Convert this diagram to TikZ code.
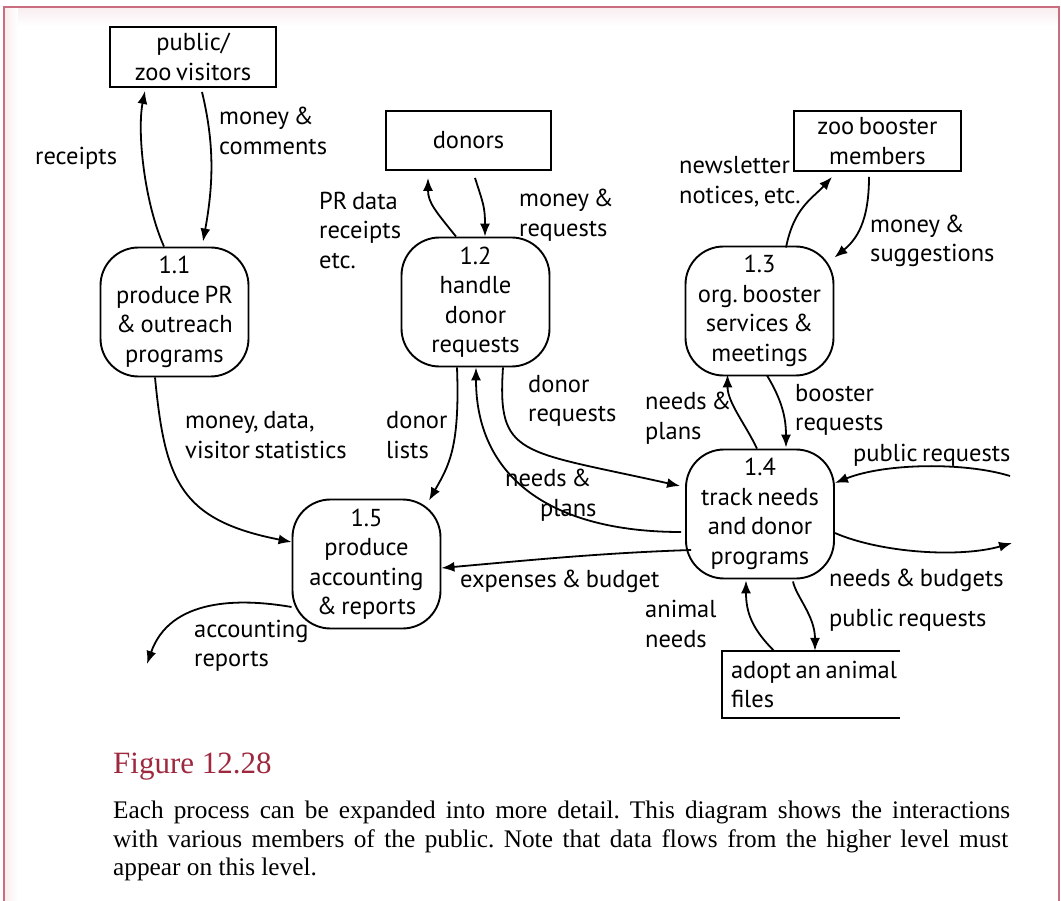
\documentclass[tikz,border=0pt]{standalone}
\usepackage{fontspec}
\setmainfont[WordSpace=0.7]{PT Sans}
\newfontfamily\capfont{Liberation Serif}
\usetikzlibrary{arrows.meta,calc}
\definecolor{framered}{RGB}{200,110,128}
\definecolor{figred}{RGB}{158,40,62}
\frenchspacing
\begin{document}
\begin{tikzpicture}[x=1pt,y=-1pt,
  txt/.style={font=\fontsize{24.5}{29.5}\selectfont},
  lbl/.style={txt, inner sep=0pt, align=left},
  ext/.style={txt, draw, line width=1.9pt, align=center, inner sep=0pt},
  proc/.style={txt, draw, line width=1.9pt, rounded corners=38pt, align=center,
    inner sep=0pt, minimum width=148pt, minimum height=129pt},
  flow/.style={line width=1.8pt, -{Latex[length=13pt,width=10pt]}},
  captext/.style={font=\capfont\fontsize{25.3}{28}\selectfont, inner sep=0pt, anchor=base west}
]
\useasboundingbox (0,0) rectangle (1061,901);

% page frame, open at the bottom
\shade[top color=framered!12, bottom color=white] (4,8) rectangle (1058,26);
\shade[left color=framered!12, right color=white] (4,8) rectangle (18,901);
\draw[framered, line width=2pt] (3.5,901) -- (3.5,7) -- (1058.5,7) -- (1058.5,901);

% external entities
\node[ext, minimum width=166pt, minimum height=60pt] (pub) at (193,57) {public/\\zoo visitors};
\node[ext, minimum width=165pt, minimum height=59pt] (donors) at (468.5,140.5) {donors};
\node[ext, minimum width=167pt, minimum height=60pt] (boost) at (877.5,141) {zoo booster\\members};

% processes
\node[proc] (p11) at (174.5,312) {1.1\\produce PR\\\& outreach\\programs};
\node[proc] (p12) at (475.5,302) {1.2\\handle\\donor\\requests};
\node[proc] (p13) at (759.5,311) {1.3\\org. booster\\services \&\\meetings};
\node[proc] (p14) at (760,514) {1.4\\track needs\\and donor\\programs};
\node[proc] (p15) at (366.5,564) {1.5\\produce\\accounting\\\& reports};

% data store, open on the right
\node[minimum width=178pt, minimum height=67pt, inner sep=0pt] (files) at (811,684.5) {};
\draw[line width=1.9pt] (files.north east) -- (files.north west) -- (files.south west) -- (files.south east);
\node[lbl, anchor=west] (filestext) at ([xshift=9pt]files.west) {adopt an animal\\files};

% free ends
\coordinate (pin) at (1010,476);
\coordinate (pout) at (1012,543);
\coordinate (acc) at (147,664);

% flows
\draw[flow] ([xshift=-10.5pt]p11.north) .. controls +(-20,-45) and +(-8,40) .. ([xshift=-48pt,yshift=-3pt]pub.south);
\draw[flow] ([xshift=9pt,yshift=-4pt]pub.south) .. controls +(12,50) and +(11,-60) .. ([xshift=28.5pt,yshift=5pt]p11.north);
\draw[flow] ([xshift=-19.5pt]p12.north) .. controls +(-20,-25) and +(0,25) .. ([xshift=-40.5pt,yshift=-7pt]donors.south);
\draw[flow] ([xshift=6.5pt,yshift=-7pt]donors.south) .. controls +(8,25) and +(0,-30) .. ([xshift=9.5pt]p12.north);
\draw[flow] ([xshift=26.5pt,yshift=-2pt]p13.north) .. controls +(8,-40) and +(-20,22) .. ([xshift=-45.5pt,yshift=-5pt]boost.south);
\draw[flow] ([xshift=-8.5pt,yshift=-5pt]boost.south) .. controls +(0,45) and +(22,-18) .. ([yshift=-12pt]p13.north east);
\draw[flow] ([xshift=-3pt]p14.north) .. controls +(-12,-25) and +(0,28) .. ([xshift=-32pt,yshift=2pt]p13.south);
\draw[flow] ([xshift=7.5pt,yshift=1pt]p13.south) .. controls +(15,25) and +(0,-30) .. ([xshift=26pt,yshift=1pt]p14.north);
\draw[flow] (pin) .. controls +(-45,-14) and +(50,-20) .. ([yshift=31pt]p14.east);
\draw[flow] ([yshift=-19pt]p14.east) .. controls +(46,20) and +(-52,15) .. (pout);
\draw[flow] ([xshift=33pt,yshift=-2pt]p14.south) .. controls +(3,15) and +(0,-35) .. ([xshift=4pt]files.north);
\draw[flow] ([xshift=-37pt]files.north) .. controls +(-22,-22) and +(0,32) .. ([xshift=-14pt,yshift=-1pt]p14.south);
\draw[flow] ([xshift=-18.5pt]p12.south) .. controls +(3,80) and +(20,-35) .. ([xshift=62.5pt,yshift=-2pt]p15.north);
\draw[flow] ([xshift=-4pt,yshift=-18pt]p14.west) .. controls +(-130,0) and +(0,110) .. ([xshift=0.5pt]p12.south);
\draw[flow] ([xshift=27.5pt]p12.south) .. controls +(-6,90) and +(-161,-36) .. ([xshift=-5pt,yshift=28pt]p14.west);
\draw[flow] ([xshift=-19.5pt]p11.south) .. controls +(10,103) and +(-112,-22) .. ([yshift=22pt]p15.west);
\draw[flow] ([xshift=6pt,yshift=-36pt]p14.west) .. controls +(-90,3) and +(90,-8) .. ([yshift=-4pt]p15.east);
\draw[flow] ([yshift=-43pt]p15.west) .. controls +(-52,-9) and +(23,-66) .. (acc);

% flow labels
\node[lbl, anchor=west] (l1) at (35,158) {receipts};
\node[lbl, anchor=west] (l2) at (219,131) {money \&\\comments};
\node[lbl, anchor=west] (l3) at (319,230) {PR data\\receipts\\etc.};
\node[lbl, anchor=west] (l4) at (519,215) {money \&\\requests};
\node[lbl, anchor=west] (l5) at (679,182) {newsletter\\notices, etc.};
\node[lbl, anchor=west] (l6) at (870,241) {money \&\\suggestions};
\node[lbl, anchor=west] (l7) at (645,418) {needs \&\\plans};
\node[lbl, anchor=west] (l8) at (795,410) {booster\\requests};
\node[lbl, anchor=west] (l9) at (853,455) {public requests};
\node[lbl, anchor=west] (l10) at (528,401) {donor\\requests};
\node[lbl, anchor=west] (l11) at (386,435) {donor\\lists};
\node[lbl, anchor=west] (l12) at (185,435) {money, data,\\visitor statistics};
\node[lbl, anchor=west] (l13) at (505,495) {needs \&\\\hspace*{35pt}plans};
\node[lbl, anchor=west] (l14) at (460,581) {expenses \& budget};
\node[lbl, anchor=west] (l15) at (829,580) {needs \& budgets};
\node[lbl, anchor=west] (l16) at (829,620) {public requests};
\node[lbl, anchor=west] (l17) at (645,624) {animal\\needs};
\node[lbl, anchor=west] (l18) at (194,646) {accounting\\reports};

% caption
\node[captext, text=figred, font=\capfont\fontsize{31}{34}\selectfont] (fig) at (113,773) {Figure 12.28};
\node[captext] (c1) at (113,818) {\makebox[897pt][s]{Each process can be expanded into more detail. This diagram shows the interactions}};
\node[captext] (c2) at (113,847) {\makebox[895pt][s]{with various members of the public. Note that data flows from the higher level must}};
\node[captext] (c3) at (113,875) {appear on this level.};
\end{tikzpicture}
\end{document}
